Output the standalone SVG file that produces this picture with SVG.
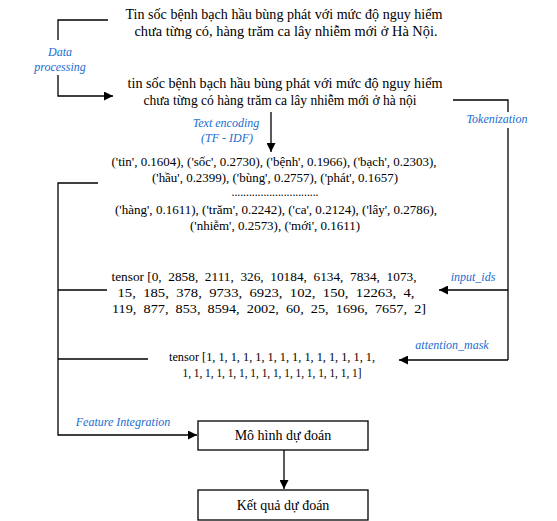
<svg xmlns="http://www.w3.org/2000/svg" width="557" height="521" viewBox="0 0 557 521">
<style>
text{font-family:'Liberation Serif','DejaVu Serif',serif}
.t{fill:#000;text-anchor:middle}
.big{font-size:14px}
.mid{font-size:12px}
.sm{font-size:11.5px;white-space:pre}
.lbl{font-style:italic;font-size:12px;fill:#1a6dd0;text-anchor:middle}
.ln{stroke:#000;stroke-width:1.3;fill:none}
.box{fill:#fff;stroke:#000;stroke-width:1.3}
</style>
<defs>
<marker id="ah" viewBox="0 0 10 10" refX="10" refY="5" markerWidth="9" markerHeight="9" markerUnits="userSpaceOnUse" orient="auto">
<path d="M0,0 L10,5 L0,10 z" fill="#000"/>
</marker>
</defs>
<rect width="557" height="521" fill="#fff"/>
<g id="connectors">
<path class="ln" d="M108,20 H58 V40"/>
<path class="ln" d="M58,75 V96 H113" marker-end="url(#ah)"/>
<path class="ln" d="M453,100 H508 V112"/>
<path class="ln" d="M508,128 V360"/>
<path class="ln" d="M508,290 H439" marker-end="url(#ah)"/>
<path class="ln" d="M508,360 H399" marker-end="url(#ah)"/>
<path class="ln" d="M271,112 V152" marker-end="url(#ah)"/>
<path class="ln" d="M98,183 H58 V435 H197" marker-end="url(#ah)"/>
<path class="ln" d="M58,290 H107"/>
<path class="ln" d="M58,359 H148"/>
<path class="ln" d="M284,450 V489" marker-end="url(#ah)"/>
<text class="lbl" x="60" y="56">Data</text>
<text class="lbl" x="60" y="71">processing</text>
<text class="lbl" x="497" y="123">Tokenization</text>
<text class="lbl" x="226" y="127">Text encoding</text>
<text class="lbl" x="227" y="142">(TF - IDF)</text>
<text class="lbl" x="473" y="281">input_ids</text>
<text class="lbl" x="452" y="349">attention_mask</text>
<text class="lbl" x="123" y="426">Feature Integration</text>
</g>
<g id="raw-text">
<text class="t big" x="284" y="19" textLength="317" lengthAdjust="spacingAndGlyphs">Tin sốc bệnh bạch hầu bùng phát với mức độ nguy hiểm</text>
<text class="t big" x="286" y="36" textLength="303" lengthAdjust="spacingAndGlyphs">chưa từng có, hàng trăm ca lây nhiễm mới ở Hà Nội.</text>
</g>
<g id="clean-text">
<text class="t big" x="285" y="88" textLength="315" lengthAdjust="spacingAndGlyphs">tin sốc bệnh bạch hầu bùng phát với mức độ nguy hiểm</text>
<text class="t big" x="280" y="105" textLength="273" lengthAdjust="spacingAndGlyphs">chưa từng có hàng trăm ca lây nhiễm mới ở hà nội</text>
</g>
<g id="tfidf">
<text class="t mid" x="274" y="166" textLength="325" lengthAdjust="spacingAndGlyphs">('tin', 0.1604), ('sốc', 0.2730), ('bệnh', 0.1966), ('bạch', 0.2303),</text>
<text class="t mid" x="275" y="182" textLength="246" lengthAdjust="spacingAndGlyphs">('hầu', 0.2399), ('bùng', 0.2757), ('phát', 0.1657)</text>
<text class="t mid" x="275" y="196" textLength="87" lengthAdjust="spacingAndGlyphs">..............................</text>
<text class="t mid" x="276" y="214" textLength="322" lengthAdjust="spacingAndGlyphs">('hàng', 0.1611), ('trăm', 0.2242), ('ca', 0.2124), ('lây', 0.2786),</text>
<text class="t mid" x="275" y="230" textLength="170" lengthAdjust="spacingAndGlyphs">('nhiễm', 0.2573), ('mới', 0.1611)</text>
</g>
<g id="input-ids">
<text class="t sm" x="264" y="281" textLength="305" lengthAdjust="spacingAndGlyphs">tensor [0,  2858,  2111,  326,  10184,  6134,  7834,  1073,</text>
<text class="t sm" x="266" y="297" textLength="297" lengthAdjust="spacingAndGlyphs">15,  185,  378,  9733,  6923,  102,  150,  12263,  4,</text>
<text class="t sm" x="269" y="313" textLength="314" lengthAdjust="spacingAndGlyphs">119,  877,  853,  8594,  2002,  60,  25,  1696,  7657,  2]</text>
</g>
<g id="attention-mask">
<text class="t sm" x="272" y="361" textLength="206" lengthAdjust="spacingAndGlyphs">tensor [1, 1, 1, 1, 1, 1, 1, 1, 1, 1, 1, 1, 1, 1,</text>
<text class="t sm" x="272" y="377" textLength="179" lengthAdjust="spacingAndGlyphs">1, 1, 1, 1, 1, 1, 1, 1, 1, 1, 1, 1, 1, 1, 1, 1]</text>
</g>
<g id="model">
<rect class="box" x="198" y="421" width="170" height="29"/>
<text class="t big" x="283" y="440">Mô hình dự đoán</text>
</g>
<g id="result">
<rect class="box" x="198" y="490" width="170" height="30"/>
<text class="t big" x="283" y="510">Kết quả dự đoán</text>
</g>
</svg>
